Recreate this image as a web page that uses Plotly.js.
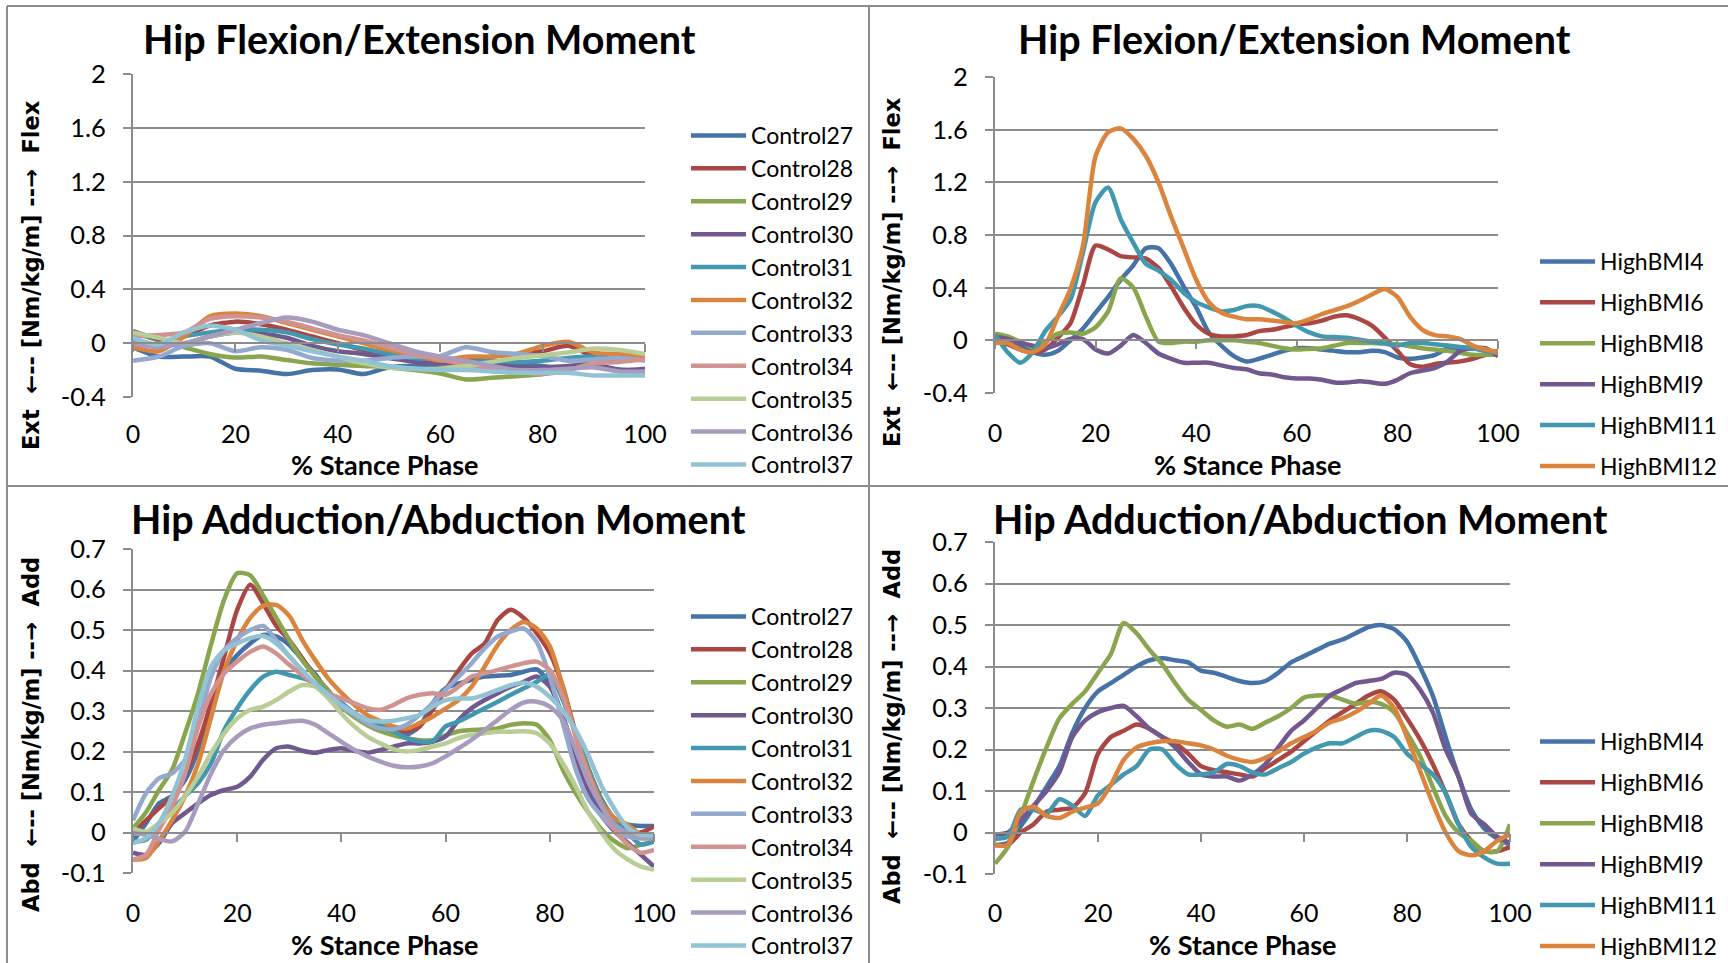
<!DOCTYPE html>
<html>
<head>
<meta charset="utf-8">
<script src="https://cdn.plot.ly/plotly-3.0.1.min.js"></script>
<style>
  html, body { margin: 0; padding: 0; background: #ffffff; }
  #chart { width: 1728px; height: 963px; }
</style>
</head>
<body>
<div id="chart"></div>
<script>
// ---- % stance phase sample points ----
const stance5 = [0,5,10,15,20,25,30,35,40,45,50,55,60,65,70,75,80,85,90,95,100];
const stance25 = [0,2.5,5,7.5,10,12.5,15,17.5,20,22.5,25,27.5,30,32.5,35,37.5,40,42.5,45,47.5,50,52.5,55,57.5,60,62.5,65,67.5,70,72.5,75,77.5,80,82.5,85,87.5,90,92.5,95,97.5,100];

// ---- series names ----
const controlNames = ['Control27','Control28','Control29','Control30','Control31','Control32','Control33','Control34','Control35','Control36','Control37'];
const highBmiNames = ['HighBMI4','HighBMI6','HighBMI8','HighBMI9','HighBMI11','HighBMI12'];

// ---- hip flexion/extension moment, controls [Nm/kg/m] ----
const c27Flex = [-0.03,-0.1,-0.1,-0.1,-0.19,-0.205,-0.23,-0.2,-0.195,-0.23,-0.18,-0.17,-0.18,-0.195,-0.165,-0.157,-0.17,-0.19,-0.165,-0.195,-0.205];
const c28Flex = [0.0,-0.02,0.05,0.13,0.16,0.14,0.1,0.05,0.0,-0.05,-0.08,-0.11,-0.13,-0.12,-0.1,-0.08,-0.06,-0.02,-0.1,-0.12,-0.12];
const c29Flex = [0.08,0.02,-0.03,-0.08,-0.107,-0.1,-0.125,-0.15,-0.16,-0.17,-0.18,-0.2,-0.225,-0.27,-0.257,-0.245,-0.23,-0.18,-0.12,-0.1,-0.09];
const c30Flex = [0.09,0.03,0.0,0.05,0.08,0.07,0.04,-0.02,-0.06,-0.08,-0.11,-0.14,-0.15,-0.15,-0.16,-0.18,-0.18,-0.17,-0.16,-0.2,-0.19];
const c31Flex = [0.02,-0.02,0.05,0.08,0.1,0.1,0.08,0.03,-0.01,-0.04,-0.08,-0.11,-0.12,-0.14,-0.13,-0.14,-0.13,-0.11,-0.1,-0.11,-0.1];
const c32Flex = [-0.03,-0.06,0.05,0.2,0.22,0.2,0.15,0.1,0.05,0.0,-0.05,-0.09,-0.13,-0.1,-0.1,-0.08,-0.02,0.01,-0.07,-0.08,-0.1];
const c33Flex = [-0.13,-0.1,-0.02,0.0,-0.06,-0.03,-0.05,-0.11,-0.13,-0.13,-0.11,-0.1,-0.095,-0.03,-0.065,-0.08,-0.095,-0.13,-0.12,-0.11,-0.13];
const c34Flex = [0.05,0.06,0.08,0.18,0.2,0.19,0.16,0.11,0.06,0.02,-0.03,-0.08,-0.12,-0.16,-0.19,-0.21,-0.23,-0.2,-0.15,-0.14,-0.12];
const c35Flex = [0.08,0.04,0.0,0.05,0.08,0.05,0.0,-0.05,-0.1,-0.15,-0.18,-0.19,-0.19,-0.17,-0.14,-0.11,-0.09,-0.07,-0.04,-0.05,-0.08];
const c36Flex = [0.0,-0.03,0.0,0.05,0.1,0.15,0.19,0.16,0.1,0.06,0.0,-0.06,-0.1,-0.13,-0.17,-0.2,-0.2,-0.19,-0.18,-0.21,-0.21];
const c37Flex = [0.04,-0.01,0.08,0.13,0.1,0.02,-0.02,-0.06,-0.1,-0.13,-0.17,-0.19,-0.2,-0.2,-0.21,-0.22,-0.22,-0.22,-0.24,-0.24,-0.24];

// ---- hip flexion/extension moment, high BMI ----
const hb4Flex  = [0.03,-0.01,-0.04,-0.09,-0.11,-0.08,0.0,0.09,0.21,0.33,0.46,0.57,0.70,0.70,0.58,0.41,0.25,0.06,-0.04,-0.12,-0.16,-0.14,-0.11,-0.08,-0.06,-0.06,-0.07,-0.08,-0.09,-0.09,-0.08,-0.09,-0.13,-0.14,-0.13,-0.11,-0.06,-0.06,-0.06,-0.08,-0.11];
const hb6Flex  = [-0.01,-0.03,-0.07,-0.09,-0.07,0.02,0.13,0.42,0.72,0.69,0.64,0.63,0.62,0.55,0.41,0.25,0.12,0.05,0.03,0.03,0.04,0.07,0.08,0.10,0.12,0.13,0.15,0.18,0.19,0.16,0.11,0.02,-0.08,-0.18,-0.20,-0.18,-0.17,-0.16,-0.14,-0.11,-0.08];
const hb8Flex  = [0.05,0.03,-0.01,-0.05,-0.01,0.05,0.06,0.05,0.10,0.22,0.47,0.40,0.18,-0.01,-0.02,-0.01,-0.01,0.0,0.0,0.0,-0.01,-0.02,-0.04,-0.06,-0.07,-0.065,-0.06,-0.04,-0.02,-0.02,-0.02,-0.025,-0.03,-0.045,-0.06,-0.07,-0.08,-0.095,-0.11,-0.11,-0.11];
const hb9Flex  = [0.03,0.01,-0.02,-0.04,-0.06,-0.03,0.01,0.01,-0.07,-0.10,-0.04,0.04,-0.02,-0.10,-0.14,-0.17,-0.17,-0.17,-0.19,-0.21,-0.22,-0.25,-0.26,-0.28,-0.29,-0.29,-0.30,-0.32,-0.32,-0.31,-0.32,-0.33,-0.30,-0.25,-0.23,-0.21,-0.16,-0.08,-0.06,-0.06,-0.12];
const hb11Flex = [0.04,-0.09,-0.17,-0.09,0.07,0.18,0.31,0.67,1.05,1.16,0.92,0.74,0.58,0.53,0.46,0.36,0.29,0.25,0.22,0.23,0.26,0.26,0.22,0.17,0.11,0.06,0.03,0.025,0.02,0.005,-0.01,-0.025,-0.04,-0.02,-0.02,-0.03,-0.04,-0.05,-0.06,-0.08,-0.10];
const hb12Flex = [-0.02,-0.02,-0.07,-0.09,-0.03,0.18,0.39,0.72,1.40,1.58,1.61,1.53,1.40,1.20,0.94,0.70,0.46,0.29,0.21,0.18,0.16,0.16,0.15,0.14,0.13,0.16,0.20,0.23,0.26,0.30,0.35,0.39,0.33,0.18,0.08,0.04,0.03,0.01,-0.04,-0.07,-0.09];

// ---- hip adduction/abduction moment, controls ----
const c27Add = [-0.022,0.023,0.072,0.09,0.13,0.204,0.32,0.40,0.438,0.467,0.488,0.484,0.463,0.426,0.39,0.348,0.32,0.295,0.274,0.257,0.245,0.241,0.262,0.319,0.356,0.368,0.377,0.385,0.387,0.389,0.397,0.403,0.368,0.286,0.196,0.113,0.056,0.027,0.019,0.016,0.016];
const c28Add = [0.0,0.03,0.06,0.09,0.145,0.22,0.32,0.435,0.55,0.612,0.565,0.51,0.475,0.43,0.385,0.35,0.31,0.29,0.27,0.26,0.253,0.25,0.262,0.303,0.352,0.40,0.442,0.467,0.525,0.55,0.53,0.492,0.443,0.36,0.245,0.155,0.08,0.03,0.0,0.0,0.015];
const c29Add = [0.01,0.05,0.105,0.155,0.245,0.345,0.465,0.575,0.64,0.635,0.585,0.53,0.475,0.425,0.385,0.35,0.31,0.285,0.265,0.25,0.24,0.233,0.228,0.228,0.24,0.25,0.253,0.255,0.257,0.266,0.27,0.266,0.228,0.155,0.097,0.048,0.007,-0.022,-0.039,-0.03,-0.022];
const c30Add = [-0.05,-0.055,-0.026,0.023,0.048,0.072,0.093,0.105,0.113,0.138,0.18,0.208,0.212,0.202,0.197,0.204,0.208,0.202,0.197,0.204,0.212,0.22,0.22,0.224,0.237,0.278,0.307,0.327,0.344,0.36,0.372,0.385,0.36,0.286,0.188,0.097,0.04,0.002,-0.026,-0.055,-0.084];
const c31Add = [-0.022,-0.018,0.023,0.056,0.09,0.122,0.171,0.253,0.307,0.352,0.385,0.397,0.389,0.381,0.368,0.344,0.32,0.294,0.278,0.266,0.25,0.233,0.225,0.225,0.262,0.274,0.29,0.307,0.323,0.34,0.356,0.372,0.39,0.327,0.245,0.155,0.08,0.031,-0.002,-0.03,-0.022];
const c32Add = [-0.067,-0.063,-0.02,0.03,0.09,0.17,0.285,0.40,0.475,0.53,0.56,0.562,0.535,0.475,0.425,0.38,0.345,0.315,0.29,0.275,0.262,0.257,0.27,0.286,0.306,0.327,0.36,0.41,0.463,0.50,0.52,0.504,0.46,0.36,0.237,0.146,0.072,0.035,0.019,-0.006,-0.014];
const c33Add = [0.03,0.097,0.134,0.146,0.18,0.27,0.385,0.45,0.48,0.50,0.51,0.475,0.435,0.40,0.365,0.335,0.31,0.29,0.27,0.257,0.255,0.266,0.29,0.319,0.352,0.385,0.418,0.455,0.484,0.496,0.504,0.47,0.385,0.27,0.155,0.08,0.04,0.007,-0.01,-0.014,-0.01];
const c34Add = [-0.067,-0.055,0.007,0.064,0.146,0.26,0.343,0.393,0.422,0.446,0.459,0.442,0.414,0.389,0.364,0.344,0.331,0.319,0.307,0.303,0.315,0.331,0.34,0.344,0.34,0.36,0.385,0.393,0.401,0.41,0.418,0.422,0.401,0.336,0.237,0.138,0.064,0.007,-0.03,-0.05,-0.043];
const c35Add = [0.01,0.002,0.023,0.048,0.09,0.138,0.196,0.245,0.282,0.303,0.311,0.327,0.348,0.364,0.36,0.331,0.294,0.262,0.237,0.22,0.206,0.2,0.204,0.212,0.22,0.233,0.241,0.245,0.249,0.249,0.25,0.245,0.22,0.171,0.113,0.048,-0.002,-0.043,-0.067,-0.084,-0.092];
const c36Add = [-0.002,-0.006,-0.016,-0.022,0.002,0.072,0.146,0.204,0.237,0.257,0.266,0.27,0.274,0.276,0.266,0.245,0.224,0.204,0.188,0.175,0.165,0.161,0.163,0.171,0.188,0.208,0.229,0.253,0.278,0.303,0.321,0.323,0.311,0.278,0.204,0.122,0.064,0.019,-0.002,-0.014,-0.014];
const c37Add = [-0.026,-0.014,0.023,0.09,0.18,0.31,0.41,0.45,0.467,0.48,0.485,0.467,0.435,0.40,0.368,0.34,0.315,0.295,0.278,0.274,0.276,0.282,0.29,0.311,0.327,0.331,0.331,0.34,0.352,0.364,0.37,0.36,0.335,0.30,0.253,0.188,0.113,0.056,0.011,-0.006,-0.006];

// ---- hip adduction/abduction moment, high BMI ----
const hb4Add  = [-0.03,-0.025,0.015,0.06,0.11,0.16,0.24,0.30,0.34,0.36,0.38,0.40,0.415,0.42,0.415,0.41,0.39,0.385,0.375,0.365,0.36,0.365,0.385,0.41,0.425,0.44,0.455,0.465,0.48,0.495,0.50,0.49,0.46,0.40,0.33,0.23,0.135,0.055,0.01,-0.015,-0.03];
const hb6Add  = [-0.03,-0.03,0.0,0.02,0.05,0.055,0.06,0.095,0.19,0.23,0.245,0.26,0.25,0.23,0.215,0.19,0.16,0.15,0.145,0.14,0.135,0.155,0.175,0.195,0.22,0.245,0.27,0.29,0.31,0.33,0.34,0.32,0.275,0.225,0.165,0.095,0.02,-0.02,-0.045,-0.045,-0.035];
const hb8Add  = [-0.075,-0.035,0.04,0.125,0.205,0.275,0.31,0.34,0.385,0.43,0.505,0.48,0.44,0.405,0.36,0.32,0.295,0.27,0.255,0.26,0.25,0.265,0.28,0.30,0.325,0.33,0.33,0.32,0.31,0.315,0.31,0.29,0.24,0.185,0.11,0.04,0.0,-0.02,-0.045,-0.045,0.02];
const hb9Add  = [-0.005,0.0,0.03,0.065,0.10,0.145,0.23,0.27,0.29,0.30,0.305,0.28,0.25,0.23,0.205,0.17,0.14,0.135,0.135,0.125,0.14,0.165,0.205,0.245,0.27,0.30,0.33,0.345,0.36,0.365,0.37,0.385,0.38,0.345,0.29,0.20,0.135,0.045,0.02,-0.01,-0.025];
const hb11Add = [-0.015,-0.01,0.055,0.055,0.045,0.08,0.065,0.04,0.09,0.115,0.14,0.16,0.20,0.20,0.165,0.14,0.14,0.145,0.165,0.16,0.145,0.14,0.155,0.17,0.19,0.205,0.215,0.215,0.23,0.245,0.245,0.23,0.19,0.165,0.14,0.095,0.02,-0.035,-0.06,-0.075,-0.075];
const hb12Add = [-0.03,-0.03,0.05,0.062,0.04,0.035,0.05,0.06,0.07,0.115,0.175,0.205,0.215,0.22,0.22,0.215,0.21,0.20,0.185,0.175,0.17,0.18,0.195,0.215,0.23,0.245,0.265,0.275,0.29,0.31,0.33,0.30,0.23,0.15,0.07,0.0,-0.045,-0.055,-0.045,-0.02,-0.005];

// ---- tick labels ----
const stanceTicks = [0,20,40,60,80,100];
const flexTicks = [-0.4,0,0.4,0.8,1.2,1.6,2];
const flexTickText = ['-0.4','0','0.4','0.8','1.2','1.6','2'];
const addTicks = [-0.1,0,0.1,0.2,0.3,0.4,0.5,0.6,0.7];
const addTickText = ['-0.1','0','0.1','0.2','0.3','0.4','0.5','0.6','0.7'];

// ---- styling ----
const palette = ['#4572A7','#AA4643','#89A54E','#71588F','#4198AF','#DB843D','#93A9CF','#D19392','#B9CD96','#A99BBD','#92C3D4'];
const GRID = '#8c8c8c';
const TXT_FONT = 'Lato, "Liberation Sans", sans-serif';
const AXT_FONT = '"DejaVu Sans", Verdana, sans-serif';
const W = 1728, H = 963;
const px = v => v / W;
const py = v => 1 - v / H;

const flexTitle = 'Hip Flexion/Extension Moment';
const addTitle = 'Hip Adduction/Abduction Moment';
const flexAxisTitle = 'Ext  \u2190-- [Nm/kg/m] --\u2192  Flex';
const addAxisTitle = 'Abd  \u2190-- [Nm/kg/m] --\u2192  Add';
const stanceTitle = '% Stance Phase';

// Four panels: box geometry in page pixels
const panels = [
  { x: stance5,  series: [c27Flex,c28Flex,c29Flex,c30Flex,c31Flex,c32Flex,c33Flex,c34Flex,c35Flex,c36Flex,c37Flex], names: controlNames,
    xd: [133, 645], yd: [74, 397], yr: [-0.4, 2], tv: flexTicks, tt: flexTickText, drop: 85,
    title: flexTitle, tx: 419, ty: 38, ytitle: flexAxisTitle, yx: 31, yy: 275, xtx: 385, xty: 464,
    legX: 686, legY: 114, gap: 0, order: 'normal' },
  { x: stance25, series: [hb4Flex,hb6Flex,hb8Flex,hb9Flex,hb11Flex,hb12Flex], names: highBmiNames,
    xd: [995, 1498], yd: [77, 393], yr: [-0.4, 2], tv: flexTicks, tt: flexTickText, drop: 87,
    title: flexTitle, tx: 1294, ty: 38, ytitle: flexAxisTitle, yx: 892, yy: 272, xtx: 1248, xty: 464,
    legX: 1535, legY: 240, gap: 8, order: 'grouped' },
  { x: stance25, series: [c27Add,c28Add,c29Add,c30Add,c31Add,c32Add,c33Add,c34Add,c35Add,c36Add,c37Add], names: controlNames,
    xd: [133, 654], yd: [549, 873], yr: [-0.1, 0.7], tv: addTicks, tt: addTickText, drop: 74,
    title: addTitle, tx: 438, ty: 518, ytitle: addAxisTitle, yx: 31, yy: 735, xtx: 385, xty: 944,
    legX: 686, legY: 595, gap: 0, order: 'normal' },
  { x: stance25, series: [hb4Add,hb6Add,hb8Add,hb9Add,hb11Add,hb12Add], names: highBmiNames,
    xd: [995, 1510], yd: [542, 874], yr: [-0.1, 0.7], tv: addTicks, tt: addTickText, drop: 74,
    title: addTitle, tx: 1300, ty: 518, ytitle: addAxisTitle, yx: 892, yy: 727, xtx: 1243, xty: 944,
    legX: 1535, legY: 720, gap: 8, order: 'grouped' }
];

const traces = [];
const layout = {
  width: W, height: H,
  margin: { l: 0, r: 0, t: 0, b: 0, autoexpand: false },
  paper_bgcolor: '#ffffff', plot_bgcolor: '#ffffff',
  font: { family: TXT_FONT, color: '#000000' },
  showlegend: true,
  annotations: [],
  shapes: []
};

panels.forEach((p, i) => {
  const n = i + 1;
  const sfx = n === 1 ? '' : String(n);
  const yDom = [py(p.yd[1]), py(p.yd[0])];
  const zeroPos = yDom[0] + (0 - p.yr[0]) / (p.yr[1] - p.yr[0]) * (yDom[1] - yDom[0]);

  p.series.forEach((vals, k) => {
    traces.push({
      type: 'scatter', mode: 'lines',
      x: p.x, y: vals, name: p.names[k],
      xaxis: 'x' + sfx, yaxis: 'y' + sfx,
      legend: 'legend' + sfx, legendgroup: 'g' + n + '_' + k,
      line: { color: palette[k], width: 4.5, shape: 'spline', smoothing: 0.7 },
      hoverinfo: 'skip'
    });
  });

  // stance axis crosses the moment axis at zero; its labels sit below the box
  layout['xaxis' + sfx] = {
    domain: [px(p.xd[0]), px(p.xd[1])], range: [0, 100],
    anchor: 'free', position: zeroPos,
    showline: true, linecolor: GRID, linewidth: 2,
    ticks: 'outside', ticklen: 8, tickwidth: 2, tickcolor: GRID,
    tickvals: stanceTicks, ticktext: stanceTicks.map(String),
    ticklabelstandoff: p.drop - 24,
    showgrid: false, zeroline: false, fixedrange: true, automargin: false,
    tickfont: { family: TXT_FONT, size: 25, color: '#000' }
  };
  layout['yaxis' + sfx] = {
    domain: yDom, range: p.yr, anchor: 'x' + sfx,
    showline: true, linecolor: GRID, linewidth: 2,
    ticks: 'outside', ticklen: 8, tickwidth: 2, tickcolor: GRID,
    tickvals: p.tv, ticktext: p.tt, ticklabelstandoff: 12,
    showgrid: true, gridcolor: GRID, gridwidth: 2, zeroline: false, fixedrange: true, automargin: false,
    tickfont: { family: TXT_FONT, size: 25.5, color: '#000' }
  };
  layout['legend' + sfx] = {
    x: px(p.legX), y: py(p.legY), xanchor: 'left', yanchor: 'top',
    bgcolor: 'rgba(0,0,0,0)', borderwidth: 0,
    font: { family: TXT_FONT, size: 23, color: '#000' },
    tracegroupgap: p.gap, itemwidth: 55, traceorder: p.order
  };

  layout.annotations.push(
    { text: '<b>' + p.title + '</b>', xref: 'paper', yref: 'paper', x: px(p.tx), y: py(p.ty),
      xanchor: 'center', yanchor: 'middle', showarrow: false,
      font: { family: TXT_FONT, size: 39.5, color: '#000' } },
    { text: '<b>' + stanceTitle + '</b>', xref: 'paper', yref: 'paper', x: px(p.xtx), y: py(p.xty),
      xanchor: 'center', yanchor: 'middle', showarrow: false,
      font: { family: TXT_FONT, size: 27, color: '#000' } },
    { text: '<b>' + p.ytitle + '</b>', xref: 'paper', yref: 'paper', x: px(p.yx), y: py(p.yy),
      xanchor: 'center', yanchor: 'middle', showarrow: false, textangle: -90,
      font: { family: AXT_FONT, size: 22.5, color: '#000' } }
  );
});

// cell frame and dividers
const frame = { color: GRID, width: 2 };
layout.shapes.push(
  { type: 'line', xref: 'paper', yref: 'paper', x0: px(7), x1: 1, y0: py(6), y1: py(6), line: frame },
  { type: 'line', xref: 'paper', yref: 'paper', x0: px(7), x1: px(7), y0: py(6), y1: 0, line: frame },
  { type: 'line', xref: 'paper', yref: 'paper', x0: px(869), x1: px(869), y0: py(6), y1: 0, line: frame },
  { type: 'line', xref: 'paper', yref: 'paper', x0: px(7), x1: 1, y0: py(486), y1: py(486), line: frame }
);

Plotly.newPlot('chart', traces, layout, { staticPlot: true, displayModeBar: false });
</script>
</body>
</html>
